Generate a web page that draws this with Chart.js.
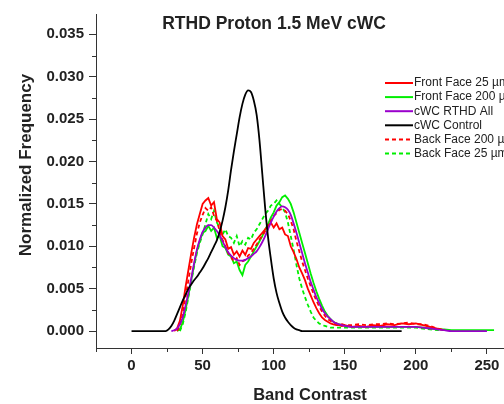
<!DOCTYPE html>
<html>
<head>
<meta charset="utf-8">
<script src="https://cdn.jsdelivr.net/npm/chart.js@4.4.0/dist/chart.umd.min.js"></script>
<style>
  html, body { margin: 0; padding: 0; background: #fff; }
  canvas { display: block; }
</style>
</head>
<body>
<canvas id="chart" width="504" height="404"></canvas>
<script>
// band contrast values (x) shared by every series
const bandContrast = [0,5,10,15,20,22,
  24,26,28,30,32,34,36,38,40,42,
  44,46,48,50,52,54,56,58,60,62,
  64,66,68,70,72,74,76,78,80,82,
  84,86,88,90,92,94,96,98,100,102,
  104,106,108,110,112,114,116,118,120,122,
  124,126,128,130,132,134,136,138,140,142,
  144,146,148,150,
  155,160,165,170,175,180,185,190,195,200,
  205,210,215,220,225,230,235,240,245,250,255];

const frontFace25 = [null,null,null,null,null,null,
  null,null,null,0,.0003,.0012,.0030,.0052,.0072,.0092,
  .0110,.0126,.0138,.0150,.0154,.0157,.0148,.0152,.0132,.0128,
  .0112,.0108,.0097,.0099,.0090,.0094,.0088,.0095,.0090,.0098,
  .0097,.0104,.0108,.0112,.0116,.0120,.0124,.0128,.0122,.0127,
  .0120,.0122,.0114,.0112,.0100,.0093,.0085,.0075,.0068,.0060,
  .0050,.0042,.0034,.0027,.0021,.0016,.0013,.0011,.0009,.0008,
  .0007,.0007,.0006,.0007,
  .0005,.0006,.0005,.0007,.0006,.0008,.0007,.0009,.0008,.0009,
  .0007,.0005,.0003,.0001,null,null,null,null,null,null,null];

const frontFace200 = [null,null,null,null,null,null,
  null,null,null,null,0,.0002,.0010,.0025,.0042,.0060,
  .0078,.0095,.0106,.0116,.0118,.0124,.0118,.0122,.0110,.0112,
  .0100,.0098,.0090,.0088,.0080,.0082,.0072,.0066,.0078,.0082,
  .0088,.0094,.0100,.0106,.0112,.0120,.0126,.0134,.0140,.0148,
  .0152,.0158,.0160,.0156,.0150,.0140,.0128,.0116,.0104,.0092,
  .0080,.0068,.0057,.0047,.0038,.0030,.0023,.0018,.0014,.0011,
  .0009,.0008,.0007,.0006,
  .0005,.0005,.0005,.0005,.0005,.0005,.0005,.0005,.0005,.0005,
  .0004,.0003,.0002,.0002,.0001,.0001,.0001,.0001,.0001,.0001,.0001];

const rthdAll = [null,null,null,null,null,null,
  null,null,0,.0001,.0003,.0008,.0016,.0030,.0045,.0062,
  .0080,.0096,.0108,.0117,.0122,.0125,.0125,.0122,.0118,.0113,
  .0106,.0099,.0093,.0089,.0086,.0084,.0083,.0083,.0084,.0086,
  .0088,.0091,.0094,.0099,.0105,.0112,.0120,.0128,.0135,.0141,
  .0145,.0147,.0146,.0143,.0137,.0127,.0116,.0104,.0092,.0080,
  .0069,.0058,.0049,.0040,.0033,.0026,.0021,.0017,.0014,.0011,
  .0009,.0008,.0007,.0006,
  .0005,.0005,.0005,.0005,.0005,.0005,.0005,.0005,.0005,.0005,
  .0004,.0003,.0002,.0001,0,0,0,0,0,0,null];

const control = [0,0,0,0,0,0,
  0,.0002,.0006,.0012,.0020,.0028,.0036,.0043,.0050,.0055,
  .0060,.0064,.0069,.0074,.0080,.0086,.0093,.0100,.0107,.0117,
  .0130,.0146,.0166,.0190,.0212,.0232,.0252,.0268,.0279,.0284,
  .0282,.0272,.0255,.0225,.0185,.0145,.0111,.0085,.0062,.0045,
  .0033,.0023,.0016,.0011,.0007,.0004,.0002,.0001,0,0,
  0,0,0,0,0,0,0,0,0,0,
  0,0,0,0,
  0,0,0,0,0,0,0,0,null,null,
  null,null,null,null,null,null,null,null,null,null,null];

const backFace200 = [null,null,null,null,null,null,
  null,null,null,null,0,.0006,.0020,.0040,.0060,.0080,
  .0098,.0115,.0128,.0137,.0145,.0142,.0146,.0136,.0130,.0118,
  .0108,.0100,.0092,.0087,.0082,.0086,.0078,.0082,.0084,.0089,
  .0092,.0097,.0102,.0108,.0112,.0118,.0124,.0130,.0136,.0139,
  .0143,.0144,.0142,.0138,.0130,.0120,.0106,.0094,.0082,.0072,
  .0062,.0053,.0044,.0036,.0029,.0023,.0018,.0014,.0012,.0010,
  .0009,.0008,.0008,.0007,
  .0007,.0008,.0007,.0008,.0008,.0009,.0008,.0009,.0010,.0008,
  .0008,.0006,.0003,.0001,null,null,null,null,null,null,null];

const backFace25 = [null,null,null,null,null,null,
  null,null,null,null,null,0,.0008,.0022,.0040,.0058,
  .0076,.0092,.0104,.0114,.0126,.0138,.0132,.0142,.0128,.0122,
  .0114,.0120,.0112,.0110,.0104,.0112,.0100,.0106,.0102,.0110,
  .0108,.0116,.0120,.0126,.0132,.0138,.0142,.0148,.0150,.0154,
  .0150,.0146,.0140,.0128,.0112,.0096,.0078,.0062,.0050,.0040,
  .0031,.0023,.0016,.0012,.0009,.0007,.0006,.0005,.0004,.0004,
  .0004,.0004,.0004,.0004,
  .0004,.0004,.0004,.0004,.0004,.0004,.0004,.0004,.0004,.0004,
  .0003,.0002,.0001,.0001,null,null,null,null,null,null,null];

const xTicks = [0, 50, 100, 150, 200, 250];
const xMinorTicks = [-25, 25, 75, 125, 175, 225];
const yTicks = [0, 0.005, 0.010, 0.015, 0.020, 0.025, 0.030, 0.035];
const yMinorTicks = [0.0025, 0.0075, 0.0125, 0.0175, 0.0225, 0.0275, 0.0325];

const FONT = '"Liberation Sans", Arial, sans-serif';
Chart.defaults.font.family = FONT;

function pts(arr) {
  return bandContrast.map((x, i) => ({ x, y: arr[i] }));
}

// short minor tick marks outside both axes
const minorTicks = {
  id: 'minorTicks',
  afterDraw(chart) {
    const { ctx, scales: { x, y } } = chart;
    ctx.save();
    ctx.strokeStyle = '#333';
    ctx.lineWidth = 1;
    ctx.beginPath();
    xMinorTicks.forEach(v => {
      const px = Math.round(x.getPixelForValue(v)) + 0.5;
      ctx.moveTo(px, x.top);
      ctx.lineTo(px, x.top + 4);
    });
    yMinorTicks.forEach(v => {
      const py = Math.round(y.getPixelForValue(v)) + 0.5;
      ctx.moveTo(y.right - 4, py);
      ctx.lineTo(y.right, py);
    });
    ctx.stroke();
    ctx.restore();
  }
};

// plot title and both axis titles, placed like the original figure
const titles = {
  id: 'titles',
  afterDraw(chart) {
    const ctx = chart.ctx;
    ctx.save();
    ctx.fillStyle = '#222';
    ctx.textAlign = 'center';
    ctx.textBaseline = 'middle';
    ctx.font = 'bold 17.5px ' + FONT;
    ctx.fillText('RTHD Proton 1.5 MeV cWC', 274, 24);
    ctx.font = 'bold 16.5px ' + FONT;
    ctx.fillText('Band Contrast', 310, 395);
    ctx.translate(26, 165);
    ctx.rotate(-Math.PI / 2);
    ctx.font = 'bold 17px ' + FONT;
    ctx.fillText('Normalized Frequency', 0, 0);
    ctx.restore();
  }
};

// legend on the right, clipped by the canvas edge like the original
const legendBox = {
  id: 'legendBox',
  afterDraw(chart) {
    const ctx = chart.ctx;
    ctx.save();
    ctx.font = '12px ' + FONT;
    ctx.textBaseline = 'middle';
    chart.data.datasets.forEach((ds, i) => {
      const yy = 83 + i * 14.1;
      ctx.strokeStyle = ds.borderColor;
      ctx.lineWidth = 2;
      ctx.setLineDash(ds.borderDash || []);
      ctx.beginPath();
      ctx.moveTo(385, yy);
      ctx.lineTo(413, yy);
      ctx.stroke();
      ctx.fillStyle = '#222';
      ctx.fillText(ds.label, 414, yy);
    });
    ctx.restore();
  }
};

new Chart(document.getElementById('chart'), {
  type: 'line',
  data: {
    datasets: [
      { label: 'Front Face 25 µm', data: pts(frontFace25), borderColor: '#ff0000', order: 3 },
      { label: 'Front Face 200 µm', data: pts(frontFace200), borderColor: '#00ee00', order: 4 },
      { label: 'cWC RTHD All', data: pts(rthdAll), borderColor: '#9a00cc', order: 1, cubicInterpolationMode: 'monotone' },
      { label: 'cWC Control', data: pts(control), borderColor: '#000000', order: 0, cubicInterpolationMode: 'monotone' },
      { label: 'Back Face 200 µm', data: pts(backFace200), borderColor: '#ff0000', borderDash: [4, 3], order: 2 },
      { label: 'Back Face 25 µm', data: pts(backFace25), borderColor: '#00ee00', borderDash: [4, 3], order: 5 }
    ]
  },
  options: {
    responsive: false,
    animation: false,
    layout: { padding: { top: 4, right: 0, bottom: 0, left: 0 } },
    elements: {
      point: { radius: 0 },
      line: { borderWidth: 1.8, tension: 0, fill: false }
    },
    plugins: {
      legend: { display: false },
      tooltip: { enabled: false }
    },
    scales: {
      x: {
        type: 'linear',
        min: -25,
        max: 262,
        afterBuildTicks: s => { s.ticks = xTicks.map(v => ({ value: v })); },
        afterFit: s => { s.height = 56; },
        ticks: { color: '#222', padding: 3, font: { size: 15, weight: 'bold' } },
        grid: { drawOnChartArea: false, tickLength: 6, color: '#333' },
        border: { color: '#333', width: 1 }
      },
      y: {
        min: -0.002,
        max: 0.0374,
        afterBuildTicks: s => { s.ticks = yTicks.map(v => ({ value: v })); },
        afterFit: s => { s.width = 96; },
        ticks: { color: '#222', padding: 5, font: { size: 15, weight: 'bold' },
                 callback: v => v.toFixed(3) },
        grid: { drawOnChartArea: false, tickLength: 7, color: '#333' },
        border: { color: '#333', width: 1 }
      }
    }
  },
  plugins: [minorTicks, titles, legendBox]
});
</script>
</body>
</html>
